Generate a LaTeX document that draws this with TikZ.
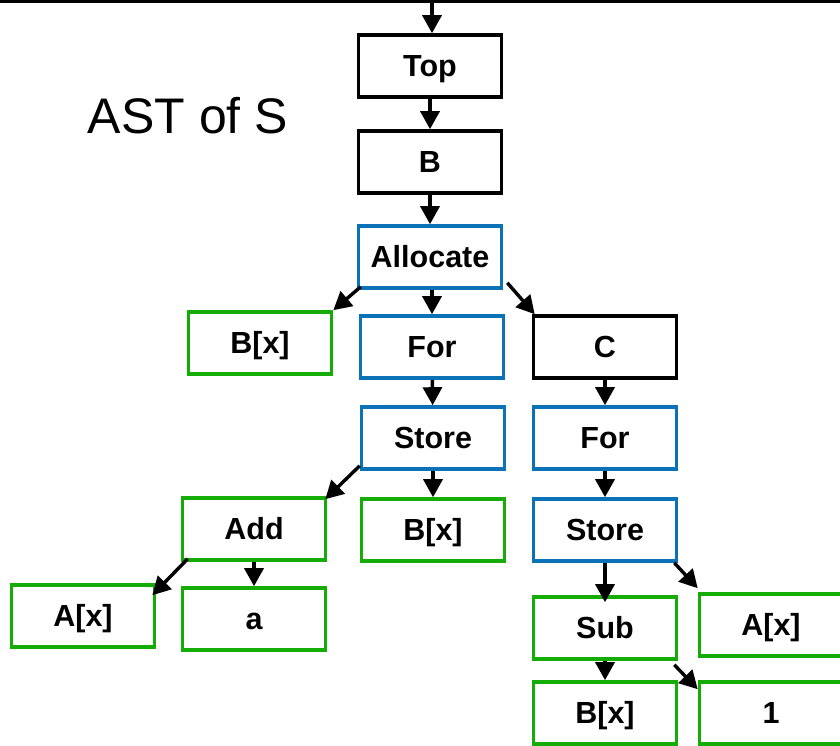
\documentclass[tikz,border=0pt]{standalone}
\usepackage{fontspec}
\setmainfont{Liberation Sans}
\usetikzlibrary{arrows.meta}
\definecolor{astblue}{RGB}{12,114,184}
\definecolor{astgreen}{RGB}{22,172,8}
\tikzset{
  astbox/.style={draw, rectangle, line width=3.6pt, minimum width=143pt,
    minimum height=62pt, inner sep=0pt, fill=white,
    text height=21.5pt, text depth=0pt,
    font=\fontsize{30.5}{34}\selectfont\bfseries},
  ctrl/.style={astbox, draw=black},
  loopbox/.style={astbox, draw=astblue},
  leafbox/.style={astbox, draw=astgreen},
  arr/.style={line width=3.4pt, -{Triangle[length=18pt, width=19pt]}},
}
\begin{document}
\begin{tikzpicture}[x=1pt, y=-1pt]
  \useasboundingbox (0,0) rectangle (840,745);
  \clip (0,0) rectangle (840,745);

  % rule along the top edge
  \fill (0,0) rectangle (840,3.4);
  \coordinate (entry) at (432,3);

  % title
  \node[font=\fontsize{50}{56}\selectfont] (title) at (188,116) {AST of S};

  % tree nodes
  \node[ctrl]    (top)    at (430,66)  {Top};
  \node[ctrl]    (b)      at (430,162) {B};
  \node[loopbox] (alloc)  at (430,257) {Allocate};
  \node[leafbox] (bxa)    at (260,343) {B[x]};
  \node[loopbox] (fora)   at (432,347) {For};
  \node[ctrl]    (c)      at (605,347) {C};
  \node[loopbox] (storea) at (433,438) {Store};
  \node[leafbox] (add)    at (254,529) {Add};
  \node[leafbox] (bxb)    at (433,530) {B[x]};
  \node[leafbox] (axa)    at (83,616)  {A[x]};
  \node[leafbox] (lita)   at (254,619) {a};
  \node[loopbox] (forb)   at (605,438) {For};
  \node[loopbox] (storeb) at (605,530) {Store};
  \node[leafbox] (sub)    at (605,628) {Sub};
  \node[leafbox] (axb)    at (771,625) {A[x]};
  \node[leafbox] (bxc)    at (605,713) {B[x]};
  \node[leafbox] (one)    at (771,713) {1};

  % edges
  \draw[arr] (entry) -- (top.north -| entry);
  \draw[arr] (top) -- (b);
  \draw[arr] (b) -- (alloc);
  \draw[arr] ([shift={(4,-3)}]alloc.south west) -- (bxa.north east);
  \draw[arr] ([xshift=2pt]alloc.south) -- ([xshift=2pt]alloc.south |- fora.north);
  \draw[arr] ([shift={(4,-7)}]alloc.south east) -- ([shift={(3,0)}]c.north west);
  \draw[arr] (fora) -- (storea);
  \draw[arr] (c) -- (forb);
  \draw[arr] ([shift={(0,-5)}]storea.south west) -- ([shift={(-2,3)}]add.north east);
  \draw[arr] (storea) -- (bxb);
  \draw[arr] (forb) -- (storeb);
  \draw[arr] ([shift={(7,-3)}]add.south west) -- ([shift={(-4,12)}]axa.north east);
  \draw[arr] (add) -- (lita);
  \draw[arr] (storeb.south) -- ([yshift=-7pt]sub.north);
  \draw[arr] ([shift={(-4,0)}]storeb.south east) -- ([shift={(0,-4)}]axb.north west);
  \draw[arr] (sub) -- (bxc);
  \draw[arr] ([shift={(-4,4)}]sub.south east) -- ([shift={(0,9)}]one.north west);
\end{tikzpicture}
\end{document}
